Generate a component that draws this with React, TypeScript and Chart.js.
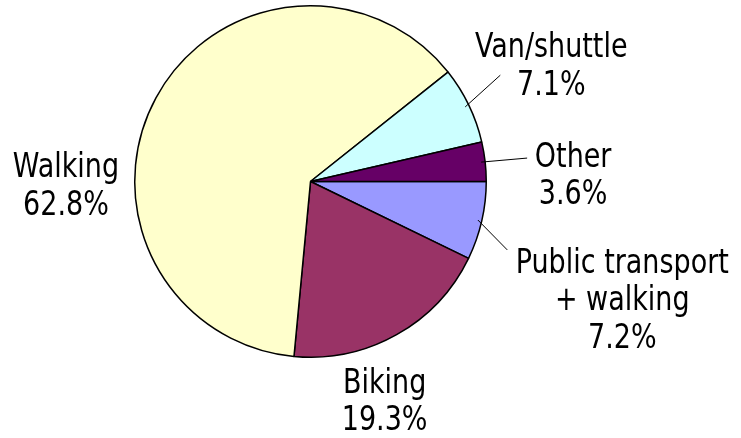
import React, { useEffect, useRef } from "react";
import { Chart, registerables } from "chart.js";

Chart.register(...registerables);

// Data (clockwise from 3 o'clock)
const categories: string[] = ["Public transport\n+ walking", "Biking", "Walking", "Van/shuttle", "Other"];
const shares: number[] = [7.2, 19.3, 62.8, 7.1, 3.6];
const colors: string[] = ["#9999FF", "#993366", "#FFFFCC", "#CCFFFF", "#660066"];

// Label layout: text offset from the slice's outer mid-point, optional leader end offset
const labelOffsets: number[][] = [[140.5, 52], [-12, 58], [-90, 79.5], [82.5, -48], [88, 5]];
const leaderOffsets: (number[] | null)[] = [[25.5, 29], null, null, [31.5, -30], [42, -3.6]];

const FONT = "30px 'DejaVu Sans Condensed', 'DejaVu Sans', sans-serif";
const LINE_H = 37.5;
const V_SCALE = 1.1;

const labelPlugin = {
  id: "pieLabels",
  afterDatasetsDraw(chart: any) {
    const ctx = chart.ctx;
    const meta = chart.getDatasetMeta(0);
    ctx.save();
    meta.data.forEach((arc: any, i: number) => {
      const { x, y, startAngle, endAngle, outerRadius } = arc.getProps(
        ["x", "y", "startAngle", "endAngle", "outerRadius"],
        true
      );
      const mid = (startAngle + endAngle) / 2;
      const ex = x + outerRadius * Math.cos(mid);
      const ey = y + outerRadius * Math.sin(mid);
      const lo = leaderOffsets[i];
      if (lo) {
        const sx = x + (outerRadius - 4) * Math.cos(mid);
        const sy = y + (outerRadius - 4) * Math.sin(mid);
        ctx.beginPath();
        ctx.strokeStyle = "#000";
        ctx.lineWidth = 1;
        ctx.moveTo(sx, sy);
        ctx.lineTo(ex + lo[0], ey + lo[1]);
        ctx.stroke();
      }
      const lines = categories[i].split("\n").concat([shares[i].toFixed(1) + "%"]);
      ctx.font = FONT;
      ctx.fillStyle = "#000";
      ctx.textAlign = "center";
      ctx.textBaseline = "alphabetic";
      const [dx, dy] = labelOffsets[i];
      lines.forEach((t, k) => {
        ctx.save();
        ctx.translate(ex + dx, ey + dy + k * LINE_H);
        ctx.scale(1, V_SCALE);
        ctx.fillText(t, 0, 0);
        ctx.restore();
      });
    });
    ctx.restore();
  },
};

export default function App() {
  const ref = useRef<HTMLCanvasElement | null>(null);
  useEffect(() => {
    document.body.style.margin = "0";
    const chart = new Chart(ref.current as HTMLCanvasElement, {
      type: "pie",
      data: {
        labels: categories,
        datasets: [
          {
            data: shares,
            backgroundColor: colors,
            borderColor: "#000000",
            borderWidth: 1.5,
            hoverOffset: 0,
          },
        ],
      },
      options: {
        responsive: false,
        animation: false,
        rotation: 90,
        layout: { padding: { left: 134, right: 254, top: 5, bottom: 80 } },
        plugins: {
          legend: { display: false },
          tooltip: { enabled: false },
          title: { display: false },
        },
      },
      plugins: [labelPlugin],
    });
    return () => chart.destroy();
  }, []);
  return (
    <div style={{ width: 741, height: 438, background: "#fff" }}>
      <canvas ref={ref} width={741} height={438} />
    </div>
  );
}
